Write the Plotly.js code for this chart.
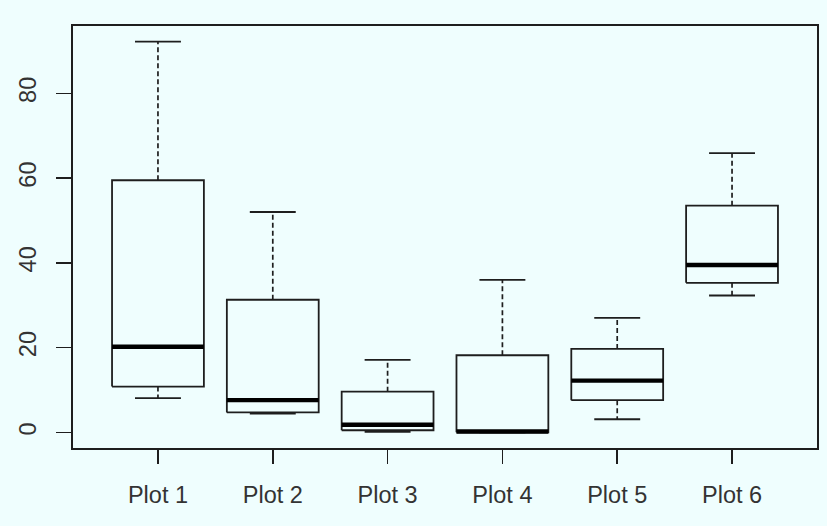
<!DOCTYPE html>
<html>
<head>
<meta charset="utf-8">
<script src="https://cdn.plot.ly/plotly-3.0.1.min.js"></script>
<style>
html,body{margin:0;padding:0;background:#effefe;}
#chart{width:827px;height:526px;}
</style>
</head>
<body>
<div id="chart"></div>
<script>
// Data
const categories = ["Plot 1","Plot 2","Plot 3","Plot 4","Plot 5","Plot 6"];
const lowerWhisker = [8.1, 4.4, 0.1, 0.0, 3.1, 32.3];
const q1Values     = [10.8, 4.7, 0.5, 0.0, 7.6, 35.3];
const medianValues = [20.2, 7.6, 1.8, 0.2, 12.2, 39.5];
const q3Values     = [59.5, 31.3, 9.6, 18.2, 19.7, 53.5];
const upperWhisker = [92.2, 52.0, 17.1, 36.0, 27.0, 65.9];
const yTicks = [0, 20, 40, 60, 80];

const halfBox = 0.4, halfCap = 0.2;
const lineCol = '#1e1e1e';

const bx=[],by=[],mx=[],my=[],wx=[],wy=[],cx=[],cy=[];
categories.forEach((c,i)=>{
  const p = i+1;
  bx.push(p-halfBox,p+halfBox,p+halfBox,p-halfBox,p-halfBox,null);
  by.push(q1Values[i],q1Values[i],q3Values[i],q3Values[i],q1Values[i],null);
  mx.push(p-halfBox,p+halfBox,null);
  my.push(medianValues[i],medianValues[i],null);
  wx.push(p,p,null,p,p,null);
  wy.push(q3Values[i],upperWhisker[i],null,q1Values[i],lowerWhisker[i],null);
  cx.push(p-halfCap,p+halfCap,null,p-halfCap,p+halfCap,null);
  cy.push(upperWhisker[i],upperWhisker[i],null,lowerWhisker[i],lowerWhisker[i],null);
});

const traces = [
  {x:wx,y:wy,mode:'lines',line:{color:lineCol,width:1.7,dash:'5px,3px'},hoverinfo:'skip'},
  {x:cx,y:cy,mode:'lines',line:{color:lineCol,width:1.8},hoverinfo:'skip'},
  {x:bx,y:by,mode:'lines',line:{color:lineCol,width:1.8},hoverinfo:'skip'},
  {x:mx,y:my,mode:'lines',line:{color:'#000',width:4.3},hoverinfo:'skip'}
];

const fnt = {family:'"Liberation Sans", Arial, sans-serif', size:23.5, color:'#333'};
const layout = {
  width:827, height:526,
  paper_bgcolor:'#effefe', plot_bgcolor:'#effefe',
  showlegend:false,
  margin:{l:73,r:10,t:26,b:78},
  xaxis:{
    range:[0.26,6.74], tickmode:'array', tickvals:[1,2,3,4,5,6], ticktext:categories,
    ticks:'outside', ticklen:14, tickwidth:1.6, tickcolor:lineCol,
    showline:true, mirror:true, linecolor:lineCol, linewidth:1.8,
    showgrid:false, zeroline:false, tickfont:fnt, ticklabelstandoff:11
  },
  yaxis:{
    range:[-3.69,95.9], tickmode:'array', tickvals:yTicks, ticktext:yTicks.map(String),
    ticks:'outside', ticklen:15, tickwidth:1.6, tickcolor:lineCol, tickangle:-90,
    showline:true, mirror:true, linecolor:lineCol, linewidth:1.8,
    showgrid:false, zeroline:false, tickfont:fnt, ticklabelstandoff:11
  }
};
Plotly.newPlot('chart', traces, layout, {displayModeBar:false, staticPlot:true});
</script>
</body>
</html>
